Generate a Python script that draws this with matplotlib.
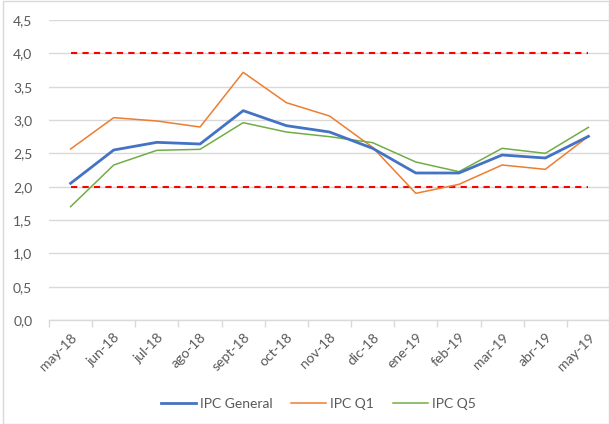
import matplotlib
matplotlib.use("Agg")
import matplotlib.pyplot as plt
from matplotlib.patches import Rectangle
from matplotlib.ticker import FixedLocator, FuncFormatter

plt.rcParams['font.family'] = ['Lato', 'DejaVu Sans']

months = ["may-18", "jun-18", "jul-18", "ago-18", "sept-18", "oct-18", "nov-18",
          "dic-18", "ene-19", "feb-19", "mar-19", "abr-19", "may-19"]
ipc_general = [2.05, 2.55, 2.665, 2.64, 3.14, 2.915, 2.82, 2.575, 2.205, 2.205, 2.475, 2.43, 2.755]
ipc_q1 = [2.565, 3.035, 2.985, 2.895, 3.715, 3.26, 3.06, 2.59, 1.90, 2.035, 2.325, 2.26, 2.755]
ipc_q5 = [1.70, 2.325, 2.545, 2.56, 2.96, 2.82, 2.75, 2.66, 2.37, 2.225, 2.575, 2.50, 2.89]
band_low = [2.0] * len(months)
band_high = [4.0] * len(months)
y_ticks = [0.0, 0.5, 1.0, 1.5, 2.0, 2.5, 3.0, 3.5, 4.0, 4.5]

fig = plt.figure(figsize=(6.09, 4.24), dpi=100)
fig.patches.append(Rectangle((3/609, 0), 1 - 3/609, 1 - 1/424, transform=fig.transFigure,
                             fill=False, edgecolor='#d9d9d9', lw=1.0))
ax = fig.add_axes([49/609, 1 - 320/424, 561/609, 300/424])

x = list(range(len(months)))
ax.plot(x, band_high, color='#ff0000', lw=1.5, dashes=(3.0, 2.5), zorder=3)
ax.plot(x, band_low, color='#ff0000', lw=1.5, dashes=(3.0, 2.5), zorder=3)
l1, = ax.plot(x, ipc_general, color='#4472C4', lw=2.0, label='IPC General', zorder=5)
l2, = ax.plot(x, ipc_q1, color='#ED7D31', lw=1.1, label='IPC Q1', zorder=4)
l3, = ax.plot(x, ipc_q5, color='#70AD47', lw=1.1, label='IPC Q5', zorder=4)

ax.set_xlim(-0.5, len(months) - 0.5)
ax.set_ylim(0, 4.5)
ax.set_yticks(y_ticks)
ax.yaxis.set_major_formatter(FuncFormatter(lambda v, p: f"{v:.1f}".replace('.', ',')))
ax.grid(axis='y', color='#d9d9d9', lw=1.0, zorder=0)
ax.set_axisbelow(True)
for s in ['top', 'right', 'left']:
    ax.spines[s].set_visible(False)
ax.spines['bottom'].set_color('#d9d9d9')
ax.spines['bottom'].set_linewidth(1.0)
ax.tick_params(axis='y', length=0, labelsize=10, labelcolor='#595959', pad=12)

ax.set_xticks(x)
ax.set_xticklabels(months, rotation=45, ha='right', rotation_mode='anchor')
ax.tick_params(axis='x', which='major', length=0, labelsize=10, labelcolor='#595959', pad=8)
ax.xaxis.set_minor_locator(FixedLocator([i - 0.5 for i in range(len(months) + 1)]))
ax.tick_params(axis='x', which='minor', length=5, color='#d9d9d9', width=1.0)

fig.legend(handles=[l1, l2, l3], loc='center', bbox_to_anchor=(318.5/609, 1 - 404/424),
           ncol=3, frameon=False, fontsize=10, labelcolor='#595959',
           handlelength=2.5, columnspacing=1.35, handletextpad=0.3)

fig.savefig('out.png', dpi=100)
